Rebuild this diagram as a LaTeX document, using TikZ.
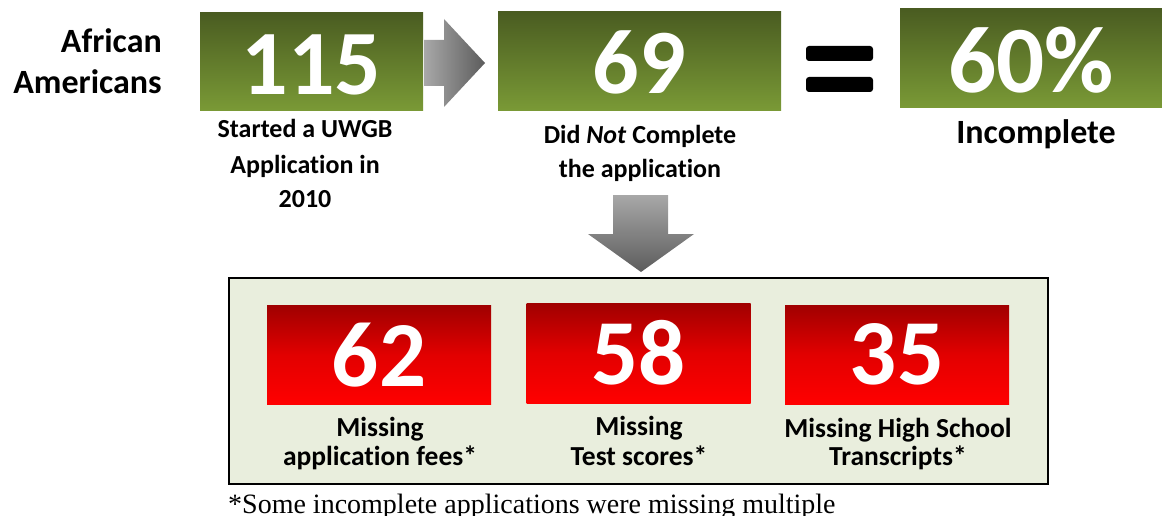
\documentclass[tikz,border=0pt]{standalone}
\usepackage{fontspec}
\setmainfont[Ligatures={NoCommon}]{Carlito}
\newfontfamily\notefont{Liberation Serif}
\definecolor{greentop}{RGB}{74,92,33}
\definecolor{greenbot}{RGB}{122,154,54}
\definecolor{redtop}{RGB}{160,0,0}
\definecolor{redmid}{RGB}{226,0,0}
\definecolor{redbot}{RGB}{255,0,0}
\definecolor{panelfill}{RGB}{233,238,221}
\definecolor{arrowlight}{RGB}{168,168,168}
\definecolor{arrowdark}{RGB}{92,92,92}
\tikzset{
  greenbox/.style={rectangle, inner sep=0pt, top color=greentop, bottom color=greenbot,
    text=white, text height=65pt, text depth=0pt,
    font=\bfseries\fontsize{92}{92}\selectfont},
  redbox/.style={rectangle, inner sep=0pt, minimum width=224pt, minimum height=99pt,
    top color=redtop, bottom color=redbot, middle color=redmid,
    text=white, font=\bfseries\fontsize{93}{93}\selectfont},
  lbl/.style={anchor=base, inner sep=0pt, font=\bfseries\fontsize{26}{26}\selectfont},
  biglbl/.style={anchor=base, inner sep=0pt, font=\bfseries\fontsize{34}{34}\selectfont},
  redlbl/.style={anchor=base, inner sep=0pt, font=\bfseries\fontsize{27.5}{27.5}\selectfont},
  eqbar/.style={fill=black, rounded corners=3pt},
}
\begin{document}
\begin{tikzpicture}[x=1pt, y=-1pt]
\useasboundingbox (0,0) rectangle (1162,516);

% group label
\node[biglbl, anchor=base east] (grp1) at (162,53) {African};
\node[biglbl, anchor=base east] (grp2) at (162,94) {Americans};

% top row of totals
\node[greenbox, minimum width=223pt, minimum height=98pt] (started) at (311.5,62) {115};
\node[greenbox, minimum width=283pt, minimum height=99pt] (notdone) at (639.5,61.5) {69};
\node[greenbox, minimum width=262pt, minimum height=99pt, text height=68pt,
      font=\bfseries\fontsize{95}{95}\selectfont] (pct) at (1031,58.5) {60\%};

% right arrow between first two boxes
\path[left color=arrowlight, right color=arrowdark]
  (424,40) -- (444,40) -- (444,19) -- (485,63) -- (444,107) -- (444,86) -- (424,86) -- cycle;

% equals sign
\path[eqbar] (806,46) rectangle (873,61);
\path[eqbar] (806,77) rectangle (873,92);

% captions under the top boxes
\node[lbl] (s1) at (305,138) {Started a UWGB};
\node[lbl] (s2) at (305,173) {Application in};
\node[lbl] (s3) at (305,207) {2010};
\node[lbl] (n1) at (640,143) {Did \textit{Not} Complete};
\node[lbl] (n2) at (640,178) {the application};
\node[biglbl] (inc) at (1036,143) {Incomplete};

% down arrow into the breakdown panel
\path[top color=arrowlight, bottom color=arrowdark]
  (613,195) -- (668,195) -- (668,234) -- (694,234) -- (641,272) -- (588,234) -- (613,234) -- cycle;

% breakdown panel
\node[rectangle, draw=black, line width=1.6pt, fill=panelfill, inner sep=0pt,
      minimum width=819pt, minimum height=206pt] (panel) at (638.5,381) {};

\node[redbox] (fees) at (379,355) {62};
\node[redbox, minimum height=100pt] (tests) at (638.5,353) {58};
\node[redbox] (trans) at (897,354.5) {35};

\node[redlbl] (f1) at (380,436) {Missing};
\node[redlbl] (f2) at (380,465) {application fees*};
\node[redlbl] (t1) at (639,435) {Missing};
\node[redlbl] (t2) at (639,465) {Test scores*};
\node[redlbl] (h1) at (898,437) {Missing High School};
\node[redlbl] (h2) at (898,465) {Transcripts*};

% footnote
\node[anchor=base west, inner sep=0pt, font=\notefont\fontsize{28}{28}\selectfont] (note) at (228,513)
  {*Some incomplete applications were missing multiple};
\end{tikzpicture}
\end{document}
